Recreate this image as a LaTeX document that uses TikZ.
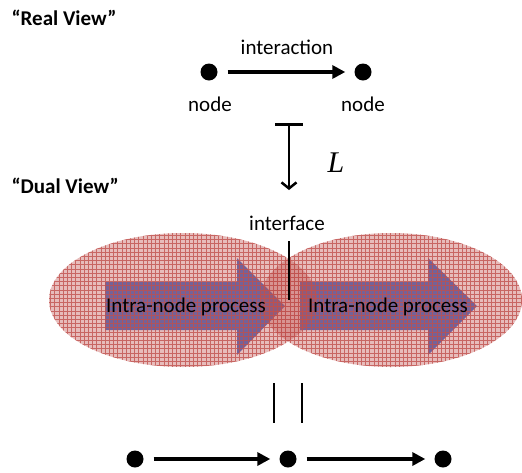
\documentclass[tikz,border=0pt]{standalone}
\usepackage{fontspec}
\setmainfont{Carlito}
\newfontfamily\serifit{Liberation Serif}
\usetikzlibrary{arrows.meta}
\definecolor{ablue}{RGB}{70,110,200}
\definecolor{ared}{RGB}{192,80,77}
\begin{document}
\begin{tikzpicture}[x=1pt,y=-1pt,
  font=\fontsize{21}{24}\selectfont,
  dot/.style={circle, fill=black, minimum size=17pt, inner sep=0pt},
  conn/.style={line width=3.5pt, -{Triangle[length=13pt,width=13pt]}, shorten >=9pt, shorten <=10pt},
  title/.style={anchor=west, font=\fontsize{21}{24}\selectfont\bfseries},
  lbl/.style={inner sep=0pt},
  proc/.style={fill=ablue},
  blob/.style={fill=ared, fill opacity=0.38},
  gridl/.style={draw=ared, draw opacity=0.8, line width=0.5pt},
  bar/.style={line width=2.5pt}
]
\useasboundingbox (0,0) rectangle (522,472);

% titles
\node[title] (treal) at (8,18) {“Real View”};
\node[title] (tdual) at (8,186) {“Dual View”};

% real view
\node[dot] (n1) at (209,72) {};
\node[dot] (n2) at (363,72) {};
\draw[conn] (n1) -- (n2);
\node[lbl] (lint) at (287,47) {interaction};
\node[lbl] (l1) at (210,104) {node};
\node[lbl] (l2) at (363,104) {node};

% mapsto
\coordinate (mt) at (289,123);
\coordinate (mb) at (289,190);
\draw[line width=2.5pt, {Bar[width=28pt,line width=3pt]}-{Straight Barb[length=6pt,width=15pt,line width=2.5pt]}] (mt) -- (mb);
\node[lbl] (lL) at (336,163) {\fontsize{30}{30}\selectfont\serifit\itshape L};

% process arrows
\path[proc] (105,282) -- (237,282) -- (237,258) -- (285,306) -- (237,355) -- (237,330) -- (105,330) -- cycle;
\path[proc] (300,282) -- (428,282) -- (428,258) -- (477,306) -- (428,355) -- (428,330) -- (300,330) -- cycle;

% ellipses
\fill[blob] (183,300) ellipse [x radius=134pt, y radius=67pt];
\begin{scope}
  \clip (183,300) ellipse [x radius=134pt, y radius=67pt];
  \draw[gridl, step=4.2pt] (40,220) grid (530,380);
\end{scope}
\fill[blob] (391,300) ellipse [x radius=131pt, y radius=67pt];
\begin{scope}
  \clip (391,300) ellipse [x radius=131pt, y radius=67pt];
  \draw[gridl, step=4.2pt] (40,220) grid (530,380);
\end{scope}

\node[lbl] (p1) at (186,307) {Intra-node process};
\node[lbl] (p2) at (388,307) {Intra-node process};

% interface
\node[lbl] (lif) at (287,223) {interface};
\coordinate (it) at (289,241);
\coordinate (ib) at (289,300);
\draw[line width=2pt] (it) -- (ib);

% equality
\coordinate (e1t) at (274,383);
\coordinate (e1b) at (274,423);
\coordinate (e2t) at (302,383);
\coordinate (e2b) at (302,423);
\draw[bar] (e1t) -- (e1b);
\draw[bar] (e2t) -- (e2b);

% bottom chain
\node[dot] (b1) at (135,459) {};
\node[dot] (b2) at (288,459) {};
\node[dot] (b3) at (443,459) {};
\draw[conn] (b1) -- (b2);
\draw[conn] (b2) -- (b3);
\end{tikzpicture}
\end{document}
